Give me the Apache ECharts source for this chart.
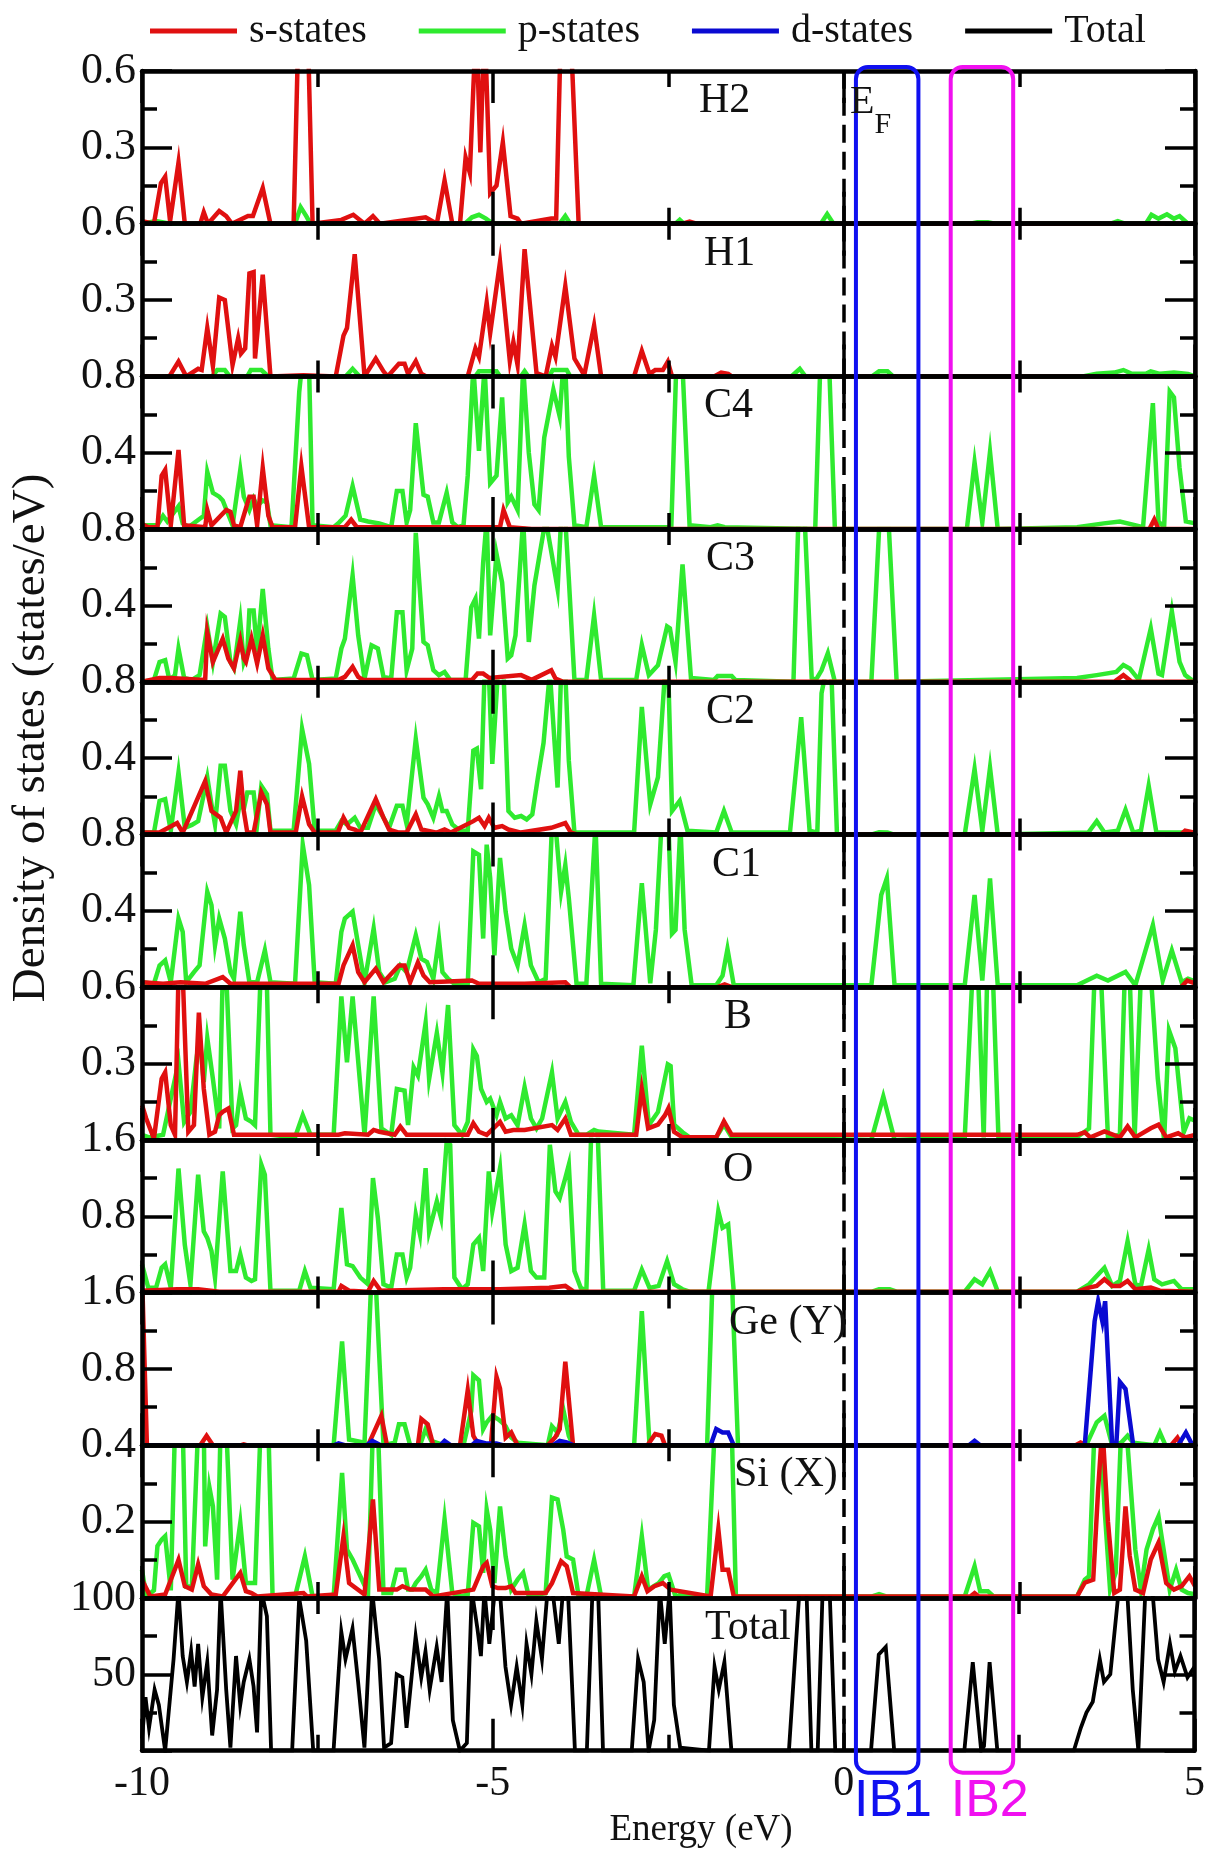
<!DOCTYPE html>
<html><head><meta charset="utf-8">
<script src="https://cdn.jsdelivr.net/npm/echarts@6/dist/echarts.min.js"></script>
<style>html,body{margin:0;padding:0;background:#fff}#c{width:1208px;height:1852px}</style>
</head><body><div id="c"></div><script>
// ---------- data (energy in eV, DOS values) ----------
const panelNames = ['H2','H1','C4','C3','C2','C1','B','O','Ge (Y)','Si (X)','Total'];
const panelMax   = [0.6, 0.6, 0.8, 0.8, 0.8, 0.8, 0.6, 1.6, 1.6, 0.4, 100];
const energyTicks = [-10, -5, 0, 5];
const ib1Range = [0.17, 1.06];
const ib2Range = [1.52, 2.41];

const sH2 = [[-10,0.01],[-9.83,0],[-9.73,0.16],[-9.67,0.185],[-9.6,0.01],[-9.48,0.24],[-9.39,0],[-9.17,0],[-9.12,0.045],[-9.06,0],[-8.9,0.05],[-8.8,0.03],[-8.72,0],[-8.49,0.03],[-8.42,0.03],[-8.28,0.14],[-8.17,0],[-7.84,0],[-7.76,0.9],[-7.65,0.9],[-7.57,0],[-7.16,0.015],[-6.99,0.035],[-6.83,0],[-6.71,0.03],[-6.61,0],[-5.96,0.025],[-5.8,0],[-5.69,0.17],[-5.58,0],[-5.47,0],[-5.39,0.26],[-5.33,0.2],[-5.24,0.8],[-5.18,0.28],[-5.12,0.8],[-5.04,0.12],[-4.95,0.15],[-4.86,0.32],[-4.75,0.03],[-4.65,0.02],[-4.6,0],[-4.17,0.02],[-4.1,0.02],[-4.03,0.8],[-3.96,0.9],[-3.87,0.6],[-3.78,0],[-2.9,0],[-2.88,0.007],[-2.82,0],[-2.3,0],[-2.2,0.008],[-2.1,0],[5,0]];
const pH2 = [[-10,0],[-9.8,0.01],[-9.6,0],[-7.82,0],[-7.74,0.065],[-7.66,0.03],[-7.6,0],[-5.4,0],[-5.3,0.025],[-5.2,0.035],[-5.1,0.02],[-5.0,0],[-4.05,0],[-3.97,0.03],[-3.9,0],[-2.4,0],[-2.34,0.015],[-2.28,0],[-0.33,0],[-0.24,0.038],[-0.15,0],[1.8,0],[1.9,0.006],[2.05,0.006],[2.15,0],[3.8,0],[3.9,0.01],[4.0,0],[4.3,0],[4.38,0.035],[4.48,0.02],[4.6,0.037],[4.7,0.02],[4.78,0.03],[4.9,0],[5,0]];

const sH1 = [[-10,0],[-9.61,0],[-9.48,0.058],[-9.37,0],[-9.2,0.03],[-9.15,0.025],[-9.07,0.19],[-8.99,0.04],[-8.9,0.31],[-8.82,0.3],[-8.71,0.045],[-8.63,0.15],[-8.59,0.09],[-8.53,0.11],[-8.47,0.405],[-8.41,0.41],[-8.39,0.07],[-8.28,0.4],[-8.17,0],[-7.7,0.005],[-7.24,0],[-7.13,0.16],[-7.08,0.19],[-6.97,0.48],[-6.83,0],[-6.67,0.07],[-6.56,0.02],[-6.5,0],[-6.34,0.05],[-6.26,0.05],[-6.21,0.01],[-6.1,0.06],[-6.02,0.01],[-5.95,0],[-5.36,0],[-5.25,0.11],[-5.2,0.077],[-5.09,0.29],[-5.04,0.17],[-4.9,0.45],[-4.76,0.06],[-4.71,0.135],[-4.65,0.045],[-4.55,0.5],[-4.38,0.013],[-4.25,0],[-4.16,0.12],[-4.11,0.077],[-3.97,0.355],[-3.84,0.07],[-3.7,0.005],[-3.56,0.2],[-3.46,0],[-2.99,0],[-2.88,0.1],[-2.77,0.01],[-2.69,0.025],[-2.58,0.025],[-2.51,0.058],[-2.45,0],[-1.85,0],[-1.75,0.015],[-1.65,0.01],[-1.6,0],[5,0]];
const pH1 = [[-10,0],[-9.0,0],[-8.93,0.025],[-8.82,0.025],[-8.75,0],[-8.5,0],[-8.45,0.025],[-8.3,0.025],[-8.2,0],[-7.1,0],[-7.0,0.03],[-6.9,0],[-5.25,0],[-5.2,0.02],[-4.95,0.02],[-4.9,0],[-4.6,0],[-4.55,0.02],[-4.5,0],[-4.2,0],[-4.15,0.025],[-3.95,0.025],[-3.9,0],[-0.75,0],[-0.63,0.03],[-0.55,0],[0.4,0],[0.5,0.02],[0.62,0.02],[0.7,0],[3.4,0],[3.6,0.01],[3.85,0.015],[3.98,0.025],[4.1,0.01],[4.3,0.01],[4.37,0.02],[4.5,0.01],[4.7,0.015],[4.9,0.01],[5,0]];

const sC4 = [[-10,0.026],[-9.91,0.01],[-9.78,0.01],[-9.72,0.28],[-9.67,0.31],[-9.59,0.02],[-9.48,0.415],[-9.4,0.02],[-9.1,0.01],[-9.07,0.1],[-9.01,0.02],[-8.8,0.1],[-8.74,0.09],[-8.69,0.02],[-8.6,0.01],[-8.47,0.17],[-8.41,0.17],[-8.36,0.02],[-8.28,0.32],[-8.2,0.07],[-8.14,0.01],[-7.82,0.01],[-7.73,0.33],[-7.62,0.01],[-7.11,0.01],[-7.02,0.05],[-6.94,0.01],[-4.9,0.01],[-4.85,0.1],[-4.76,0.01],[-4.45,0],[4.35,0],[4.42,0.05],[4.48,0],[5,0]];
const pC4 = [[-10,0.02],[-9.78,0.02],[-9.7,0.07],[-9.64,0.04],[-9.48,0.12],[-9.42,0.03],[-9.34,0.01],[-9.12,0.07],[-9.07,0.3],[-8.99,0.19],[-8.9,0.17],[-8.85,0.15],[-8.71,0.02],[-8.6,0.31],[-8.55,0.17],[-8.47,0.1],[-8.41,0.16],[-8.36,0.12],[-8.28,0.15],[-8.22,0.14],[-8.17,0.02],[-7.87,0.01],[-7.76,0.72],[-7.71,0.9],[-7.62,0.85],[-7.57,0.02],[-7.27,0.01],[-7.19,0.035],[-7.1,0.07],[-7.0,0.225],[-6.89,0.05],[-6.78,0.04],[-6.7,0.035],[-6.62,0.03],[-6.45,0.01],[-6.37,0.2],[-6.29,0.2],[-6.23,0.035],[-6.18,0.1],[-6.1,0.555],[-5.99,0.18],[-5.93,0.17],[-5.85,0.035],[-5.77,0.035],[-5.66,0.19],[-5.58,0.035],[-5.5,0.01],[-5.42,0.02],[-5.36,0.28],[-5.28,0.85],[-5.2,0.41],[-5.12,0.85],[-5.04,0.24],[-4.95,0.28],[-4.87,0.69],[-4.79,0.14],[-4.74,0.17],[-4.65,0.1],[-4.57,0.85],[-4.49,0.4],[-4.41,0.13],[-4.35,0.1],[-4.27,0.48],[-4.14,0.73],[-4.05,0.59],[-4.0,0.85],[-3.97,0.85],[-3.92,0.38],[-3.84,0.02],[-3.67,0.01],[-3.56,0.28],[-3.46,0.01],[-2.6,0.01],[-2.46,0.01],[-2.39,0.85],[-2.3,0.85],[-2.2,0.02],[-1.9,0.01],[-1.8,0.02],[-1.7,0.01],[-0.41,0],[-0.33,0.95],[-0.22,0.95],[-0.13,0],[1.75,0],[1.86,0.35],[1.97,0.035],[2.08,0.405],[2.19,0],[3.32,0.01],[3.7,0.03],[3.93,0.04],[4.1,0.025],[4.26,0.01],[4.4,0.66],[4.48,0.04],[4.56,0.01],[4.64,0.72],[4.7,0.69],[4.78,0.32],[4.87,0.04],[5,0.03]];

const sC3 = [[-10,0],[-9.75,0.02],[-9.6,0.02],[-9.1,0.01],[-9.07,0.26],[-8.99,0.104],[-8.85,0.226],[-8.77,0.122],[-8.69,0.07],[-8.6,0.217],[-8.55,0.122],[-8.52,0.104],[-8.44,0.226],[-8.36,0.096],[-8.28,0.243],[-8.2,0.07],[-8.1,0.01],[-7.2,0.01],[-7.11,0.026],[-7.0,0.078],[-6.92,0.026],[-6.85,0.01],[-5.3,0.01],[-5.22,0.043],[-5.14,0.043],[-5.05,0.02],[-4.6,0.035],[-4.45,0.01],[-4.17,0.061],[-4.11,0.017],[-4.0,0],[3.85,0],[3.98,0.035],[4.1,0],[5,0]];
const pC3 = [[-10,0],[-9.83,0.01],[-9.75,0.104],[-9.67,0.113],[-9.61,0.01],[-9.53,0.035],[-9.48,0.174],[-9.4,0.02],[-9.29,0.01],[-9.18,0.035],[-9.07,0.287],[-8.99,0.104],[-8.88,0.357],[-8.82,0.34],[-8.74,0.104],[-8.69,0.07],[-8.6,0.32],[-8.55,0.104],[-8.5,0.157],[-8.47,0.374],[-8.41,0.374],[-8.36,0.157],[-8.28,0.487],[-8.2,0.174],[-8.14,0.01],[-7.84,0.017],[-7.73,0.148],[-7.65,0.139],[-7.57,0.01],[-7.24,0.017],[-7.16,0.174],[-7.11,0.226],[-7.0,0.557],[-6.92,0.243],[-6.83,0.017],[-6.73,0.191],[-6.64,0.174],[-6.56,0.026],[-6.45,0.017],[-6.37,0.365],[-6.29,0.365],[-6.23,0.061],[-6.15,0.174],[-6.1,0.78],[-5.99,0.209],[-5.93,0.191],[-5.85,0.061],[-5.77,0.035],[-5.69,0.052],[-5.61,0.01],[-5.39,0.01],[-5.31,0.39],[-5.25,0.435],[-5.2,0.226],[-5.14,0.626],[-5.09,0.85],[-5.04,0.243],[-4.95,0.67],[-4.87,0.52],[-4.79,0.122],[-4.74,0.139],[-4.68,0.243],[-4.57,0.85],[-4.49,0.209],[-4.41,0.504],[-4.33,0.68],[-4.25,0.85],[-4.16,0.661],[-4.08,0.487],[-4.03,0.85],[-3.97,0.85],[-3.92,0.539],[-3.84,0.01],[-3.67,0.01],[-3.56,0.348],[-3.46,0.01],[-2.96,0.01],[-2.88,0.193],[-2.78,0.035],[-2.65,0.087],[-2.52,0.29],[-2.48,0.28],[-2.4,0.104],[-2.3,0.615],[-2.18,0.02],[-1.85,0.01],[-1.8,0.03],[-1.6,0.03],[-1.55,0.01],[-0.72,0],[-0.65,0.85],[-0.56,0.85],[-0.46,0.02],[-0.4,0.01],[-0.32,0.06],[-0.23,0.15],[-0.13,0],[0.39,0],[0.5,0.8],[0.64,0.8],[0.75,0],[3.32,0.02],[3.6,0.035],[3.88,0.052],[3.98,0.088],[4.07,0.07],[4.2,0.01],[4.37,0.28],[4.48,0.043],[4.53,0.035],[4.67,0.37],[4.78,0.104],[4.86,0.035],[4.95,0.01],[5,0.01]];

const sC2 = [[-10,0.01],[-9.75,0.01],[-9.5,0.06],[-9.42,0.01],[-9.1,0.28],[-9.01,0.123],[-8.88,0.088],[-8.8,0.01],[-8.66,0.123],[-8.6,0.334],[-8.55,0.123],[-8.5,0.01],[-8.41,0.01],[-8.3,0.22],[-8.22,0.158],[-8.17,0.01],[-7.81,0.01],[-7.72,0.2],[-7.62,0.053],[-7.54,0.01],[-7.21,0.01],[-7.13,0.088],[-7.05,0.035],[-6.97,0.026],[-6.89,0.01],[-6.67,0.185],[-6.56,0.088],[-6.48,0.026],[-6.34,0.01],[-6.23,0.01],[-6.1,0.105],[-6.02,0.026],[-5.8,0.01],[-5.69,0.026],[-5.6,0.01],[-5.28,0.07],[-5.2,0.088],[-5.12,0.044],[-5.06,0.088],[-4.98,0.035],[-4.87,0.044],[-4.78,0.026],[-4.6,0.01],[-4.17,0.035],[-3.97,0.06],[-3.89,0.01],[-3.8,0],[4.8,0],[4.86,0.02],[5,0.01]];
const pC2 = [[-10,0.01],[-9.83,0.01],[-9.75,0.176],[-9.67,0.185],[-9.59,0.02],[-9.48,0.325],[-9.39,0.035],[-9.29,0.05],[-9.2,0.07],[-9.07,0.3],[-9.01,0.158],[-8.96,0.053],[-8.88,0.36],[-8.82,0.36],[-8.74,0.123],[-8.66,0.053],[-8.6,0.176],[-8.55,0.132],[-8.5,0.22],[-8.41,0.22],[-8.36,0.053],[-8.3,0.255],[-8.22,0.211],[-8.17,0.02],[-7.84,0.02],[-7.72,0.554],[-7.62,0.37],[-7.54,0.02],[-7.24,0.02],[-7.16,0.07],[-7.08,0.053],[-6.97,0.088],[-6.89,0.035],[-6.78,0.035],[-6.67,0.158],[-6.56,0.088],[-6.48,0.035],[-6.37,0.15],[-6.29,0.15],[-6.23,0.053],[-6.1,0.5],[-5.99,0.193],[-5.93,0.158],[-5.85,0.088],[-5.77,0.2],[-5.72,0.123],[-5.66,0.123],[-5.58,0.053],[-5.47,0.02],[-5.36,0.02],[-5.28,0.44],[-5.23,0.45],[-5.17,0.237],[-5.12,0.85],[-5.06,0.85],[-5.01,0.37],[-4.93,0.85],[-4.85,0.85],[-4.78,0.123],[-4.69,0.088],[-4.6,0.097],[-4.52,0.079],[-4.44,0.105],[-4.36,0.3],[-4.28,0.48],[-4.19,0.85],[-4.08,0.246],[-4.03,0.85],[-3.97,0.85],[-3.92,0.387],[-3.84,0.01],[-3.56,0.01],[-2.99,0.01],[-2.88,0.668],[-2.76,0.158],[-2.65,0.3],[-2.55,0.85],[-2.5,0.8],[-2.45,0.123],[-2.34,0.176],[-2.23,0.02],[-1.82,0.01],[-1.71,0.123],[-1.6,0.01],[-0.77,0.01],[-0.61,0.615],[-0.49,0.02],[-0.38,0.01],[-0.32,0.74],[-0.26,0.85],[-0.18,0.85],[-0.1,0],[0.4,0],[0.5,0.012],[0.62,0.01],[0.7,0],[1.72,0],[1.86,0.343],[1.97,0.02],[2.08,0.35],[2.19,0],[3.48,0.01],[3.6,0.07],[3.71,0.01],[3.9,0.02],[4.01,0.13],[4.12,0.01],[4.23,0.02],[4.34,0.255],[4.45,0.01],[5,0.01]];

const sC1 = [[-10,0.026],[-9.7,0.018],[-9.45,0.026],[-9.1,0.018],[-8.85,0.053],[-8.74,0.018],[-7.2,0.018],[-7.13,0.114],[-7.0,0.22],[-6.92,0.079],[-6.83,0.026],[-6.67,0.097],[-6.56,0.026],[-6.34,0.114],[-6.26,0.114],[-6.18,0.026],[-6.07,0.13],[-5.99,0.061],[-5.9,0.026],[-5.3,0.035],[-5.2,0.018],[-4.55,0.018],[-3.97,0.026],[-3.9,0],[-1.8,0],[-1.7,0.015],[-1.6,0],[4.8,0],[4.89,0.035],[5,0.02]];
const pC1 = [[-10,0.026],[-9.83,0.018],[-9.75,0.114],[-9.67,0.14],[-9.59,0.026],[-9.48,0.36],[-9.42,0.29],[-9.37,0.026],[-9.26,0.079],[-9.18,0.114],[-9.07,0.5],[-9.01,0.43],[-8.96,0.22],[-8.9,0.36],[-8.82,0.255],[-8.74,0.079],[-8.69,0.044],[-8.6,0.396],[-8.55,0.22],[-8.47,0.026],[-8.36,0.026],[-8.25,0.193],[-8.17,0.026],[-7.82,0.018],[-7.71,0.747],[-7.62,0.536],[-7.54,0.026],[-7.24,0.018],[-7.16,0.29],[-7.11,0.36],[-7.0,0.396],[-6.92,0.22],[-6.83,0.026],[-6.7,0.308],[-6.62,0.079],[-6.53,0.026],[-6.4,0.044],[-6.32,0.114],[-6.23,0.079],[-6.1,0.272],[-6.02,0.149],[-5.94,0.132],[-5.85,0.044],[-5.77,0.255],[-5.72,0.079],[-5.64,0.044],[-5.55,0.018],[-5.36,0.018],[-5.28,0.712],[-5.2,0.694],[-5.14,0.255],[-5.09,0.747],[-5.04,0.571],[-4.98,0.167],[-4.9,0.677],[-4.82,0.396],[-4.74,0.202],[-4.65,0.114],[-4.55,0.325],[-4.46,0.114],[-4.35,0.026],[-4.25,0.044],[-4.16,0.85],[-4.11,0.85],[-4.03,0.501],[-3.97,0.64],[-3.92,0.466],[-3.81,0.018],[-3.67,0.018],[-3.54,0.85],[-3.46,0.018],[-3.0,0.01],[-2.88,0.545],[-2.76,0.02],[-2.68,0.3],[-2.6,0.85],[-2.5,0.85],[-2.45,0.28],[-2.4,0.3],[-2.33,0.85],[-2.27,0.3],[-2.17,0.01],[-1.82,0.01],[-1.73,0.06],[-1.66,0.2],[-1.57,0.01],[0.39,0.01],[0.53,0.483],[0.61,0.57],[0.72,0.01],[1.72,0.01],[1.86,0.483],[1.97,0.035],[2.08,0.57],[2.19,0.01],[3.32,0.01],[3.6,0.06],[3.76,0.035],[4.01,0.08],[4.15,0.01],[4.4,0.325],[4.54,0.035],[4.67,0.193],[4.81,0.026],[4.9,0.044],[5,0.03]];

const sB = [[-10,0.136],[-9.94,0.084],[-9.83,0.005],[-9.72,0.24],[-9.67,0.265],[-9.59,0.058],[-9.53,0.02],[-9.48,0.65],[-9.42,0.65],[-9.34,0.032],[-9.26,0.058],[-9.19,0.5],[-9.12,0.201],[-9.04,0.02],[-8.96,0.032],[-8.9,0.097],[-8.85,0.11],[-8.77,0.123],[-8.69,0.02],[-7.2,0.02],[-7.11,0.026],[-6.78,0.02],[-6.7,0.039],[-6.62,0.032],[-6.4,0.02],[-6.32,0.052],[-6.23,0.02],[-5.36,0.02],[-5.28,0.065],[-5.2,0.032],[-5.09,0.02],[-4.9,0.071],[-4.82,0.032],[-4.71,0.039],[-4.55,0.039],[-4.16,0.058],[-4.08,0.039],[-3.97,0.084],[-3.89,0.02],[-2.96,0.02],[-2.88,0.2],[-2.79,0.045],[-2.65,0.06],[-2.55,0.097],[-2.5,0.125],[-2.42,0.032],[-2.3,0.01],[-1.82,0.01],[-1.71,0.073],[-1.6,0.02],[3.32,0.02],[3.43,0.03],[3.51,0.01],[3.71,0.033],[3.93,0.01],[4.04,0.053],[4.15,0.01],[4.37,0.046],[4.48,0.06],[4.59,0.01],[4.76,0.026],[4.86,0.01],[5,0.02]];
const pB = [[-10,0.02],[-9.9,0.01],[-9.7,0.02],[-9.48,0.305],[-9.4,0.07],[-9.31,0.11],[-9.23,0.305],[-9.18,0.408],[-9.12,0.227],[-9.07,0.4],[-8.99,0.24],[-8.9,0.045],[-8.85,0.65],[-8.8,0.65],[-8.71,0.045],[-8.66,0.058],[-8.6,0.188],[-8.52,0.084],[-8.44,0.071],[-8.39,0.058],[-8.31,0.65],[-8.22,0.6],[-8.17,0.02],[-7.82,0.01],[-7.71,0.097],[-7.6,0.02],[-7.27,0.02],[-7.16,0.564],[-7.08,0.305],[-7.0,0.564],[-6.83,0.02],[-6.7,0.564],[-6.59,0.045],[-6.45,0.02],[-6.37,0.2],[-6.26,0.194],[-6.21,0.058],[-6.13,0.285],[-6.07,0.253],[-5.96,0.46],[-5.91,0.24],[-5.8,0.42],[-5.72,0.265],[-5.64,0.53],[-5.55,0.058],[-5.44,0.02],[-5.36,0.071],[-5.28,0.356],[-5.23,0.33],[-5.17,0.2],[-5.09,0.149],[-5.04,0.162],[-4.95,0.097],[-4.9,0.149],[-4.82,0.084],[-4.74,0.097],[-4.65,0.058],[-4.55,0.207],[-4.46,0.084],[-4.38,0.045],[-4.3,0.084],[-4.16,0.265],[-4.08,0.084],[-3.97,0.149],[-3.89,0.071],[-3.78,0.02],[-3.67,0.02],[-3.56,0.039],[-3.5,0.033],[-2.99,0.02],[-2.88,0.37],[-2.78,0.058],[-2.65,0.11],[-2.51,0.297],[-2.47,0.29],[-2.42,0.06],[-2.3,0.03],[-2.2,0.01],[-1.82,0.01],[-1.71,0.06],[-1.6,0.01],[0.39,0],[0.56,0.171],[0.72,0],[1.72,0.01],[1.83,0.65],[1.91,0.65],[1.99,0.01],[2.04,0.65],[2.12,0.65],[2.2,0.01],[3.32,0.01],[3.49,0.045],[3.57,0.65],[3.66,0.65],[3.76,0.01],[3.93,0.02],[4.0,0.65],[4.07,0.65],[4.14,0.01],[4.23,0.65],[4.37,0.65],[4.47,0.24],[4.56,0],[4.63,0.43],[4.72,0.36],[4.84,0.03],[4.92,0.085],[5,0.075]];

const sO = [[-10,0.02],[-9.5,0.035],[-9.2,0.035],[-8.9,0.01],[-7.2,0.01],[-7.16,0.07],[-7.05,0.02],[-6.78,0.01],[-6.7,0.122],[-6.6,0.02],[-5.7,0.035],[-5.28,0.035],[-4.9,0.035],[-4.2,0.05],[-3.97,0.07],[-3.85,0.01],[3.32,0.01],[3.49,0.052],[3.6,0.07],[3.71,0.14],[3.82,0.07],[3.93,0.07],[4.04,0.122],[4.15,0.035],[4.37,0.052],[4.5,0.02],[5,0.01]];
const pO = [[-10,0.296],[-9.91,0.05],[-9.8,0.05],[-9.72,0.26],[-9.67,0.296],[-9.59,0.05],[-9.48,1.3],[-9.39,0.5],[-9.31,0.087],[-9.2,1.235],[-9.12,0.643],[-9.07,0.574],[-9.01,0.435],[-8.96,0.157],[-8.85,1.27],[-8.74,0.226],[-8.66,0.226],[-8.6,0.4],[-8.52,0.157],[-8.44,0.122],[-8.39,0.139],[-8.3,1.34],[-8.25,1.235],[-8.17,0.02],[-7.76,0.02],[-7.68,0.226],[-7.6,0.05],[-7.27,0.035],[-7.16,0.887],[-7.08,0.296],[-7.0,0.278],[-6.89,0.157],[-6.78,0.087],[-6.71,1.2],[-6.64,0.783],[-6.56,0.087],[-6.45,0.05],[-6.37,0.4],[-6.29,0.4],[-6.23,0.157],[-6.18,0.261],[-6.1,0.817],[-6.04,0.609],[-5.96,1.304],[-5.91,0.643],[-5.8,0.956],[-5.74,0.783],[-5.66,1.58],[-5.61,1.548],[-5.55,0.157],[-5.44,0.035],[-5.36,0.087],[-5.28,0.504],[-5.2,0.574],[-5.14,0.226],[-5.06,1.27],[-5.01,0.852],[-4.9,1.304],[-4.82,0.504],[-4.74,0.226],[-4.65,0.261],[-4.55,0.713],[-4.46,0.226],[-4.38,0.157],[-4.27,0.157],[-4.19,1.548],[-4.11,1.06],[-4.05,0.991],[-3.97,1.2],[-3.92,1.34],[-3.84,0.226],[-3.75,0.05],[-3.67,0.02],[-3.6,1.7],[-3.51,1.7],[-3.43,0.02],[-2.99,0.02],[-2.88,0.24],[-2.77,0.05],[-2.64,0.07],[-2.52,0.33],[-2.42,0.087],[-2.3,0.035],[-2.2,0.01],[-1.93,0.01],[-1.79,0.852],[-1.73,0.678],[-1.65,0.713],[-1.57,0.01],[-0.8,0.01],[-0.6,0.01],[0.4,0.01],[0.5,0.035],[0.65,0.035],[0.75,0.01],[1.72,0.01],[1.86,0.139],[1.97,0.087],[2.08,0.226],[2.19,0.01],[3.32,0.01],[3.49,0.087],[3.71,0.26],[3.82,0.07],[3.93,0.122],[4.04,0.539],[4.15,0.087],[4.23,0.07],[4.34,0.452],[4.42,0.139],[4.53,0.087],[4.7,0.122],[4.81,0.035],[5,0.035]];

const sGe = [[-10,1.8],[-9.93,0],[-9.17,0],[-9.08,0.1],[-8.99,0],[-8.6,0],[-8.55,0.01],[-8.5,0],[-6.78,0],[-6.59,0.31],[-6.51,0],[-6.07,0],[-6.02,0.275],[-5.93,0.22],[-5.85,0],[-5.47,0],[-5.36,0.576],[-5.28,0.099],[-5.2,0],[-5.03,0],[-4.95,0.717],[-4.9,0.595],[-4.82,0.081],[-4.74,0.134],[-4.65,0],[-4.22,0],[-4.11,0.088],[-4.05,0.17],[-3.97,0.876],[-3.86,0],[-2.8,0],[-2.69,0.117],[-2.6,0.1],[-2.55,0],[3.3,0],[3.37,0.028],[3.45,0],[4.66,0],[4.75,0.08],[4.81,0],[5,0]];
const pGe = [[-10,0],[-7.27,0],[-7.15,1.088],[-7.05,0.06],[-6.83,0.028],[-6.73,1.8],[-6.67,1.7],[-6.56,0],[-6.4,0.028],[-6.34,0.22],[-6.26,0.22],[-6.18,0],[-6.04,0],[-5.96,0.17],[-5.88,0.046],[-5.69,0],[-5.42,0],[-5.31,0.36],[-5.28,0.734],[-5.2,0.68],[-5.14,0.17],[-5.09,0.24],[-5.01,0.31],[-4.93,0.275],[-4.87,0.24],[-4.82,0.2],[-4.74,0.081],[-4.65,0.028],[-4.22,0],[-4.16,0.2],[-4.08,0.134],[-4.0,0.38],[-3.92,0.099],[-3.86,0],[-2.99,0],[-2.88,1.405],[-2.77,0],[-1.95,0],[-1.87,1.8],[-1.6,1.8],[-1.51,0],[3.45,0],[3.6,0.24],[3.71,0.31],[3.82,0],[3.95,0.028],[4.04,0.1],[4.12,0.028],[4.42,0],[4.5,0.134],[4.58,0],[5,0]];
const dGe = [[-10,0],[-7.27,0],[-7.2,0.02],[-7.1,0],[-6.8,0],[-6.72,0.046],[-6.6,0],[-5.75,0],[-5.69,0.046],[-5.6,0],[-5.3,0],[-5.23,0.046],[-5.1,0.02],[-4.95,0.02],[-4.85,0],[-4.15,0],[-4.05,0.046],[-3.95,0.03],[-3.85,0],[-1.9,0],[-1.82,0.17],[-1.73,0.134],[-1.65,0.134],[-1.57,0],[1.78,0],[1.86,0.046],[1.94,0],[3.43,0],[3.57,1.3],[3.62,1.51],[3.68,1.3],[3.72,1.51],[3.82,0],[3.88,0.02],[3.93,0.664],[4.01,0.59],[4.12,0],[4.76,0],[4.87,0.134],[4.95,0.02],[5,0]];

const sSi = [[-10,0.048],[-9.88,0.004],[-9.67,0.009],[-9.48,0.1],[-9.39,0.031],[-9.29,0.022],[-9.2,0.088],[-9.12,0.031],[-9.01,0.009],[-8.85,0.004],[-8.6,0.066],[-8.52,0.018],[-8.44,0.013],[-8.36,0.004],[-7.7,0.013],[-7.65,0.004],[-7.24,0.009],[-7.13,0.162],[-7.05,0.039],[-6.83,0.009],[-6.71,0.258],[-6.62,0.022],[-6.37,0.022],[-6.29,0.031],[-6.18,0.022],[-5.96,0.022],[-5.85,0.004],[-5.28,0.022],[-5.14,0.083],[-5.09,0.092],[-5.01,0.031],[-4.93,0.026],[-4.82,0.026],[-4.74,0.031],[-4.68,0.013],[-4.25,0.013],[-4.16,0.039],[-4.03,0.096],[-3.95,0.083],[-3.86,0.013],[-2.99,0.004],[-2.88,0.057],[-2.8,0.018],[-2.7,0.031],[-2.58,0.039],[-2.47,0.022],[-1.9,0.004],[-1.79,0.18],[-1.73,0.074],[-1.65,0.074],[-1.57,0.004],[1.8,0.004],[1.86,0.013],[1.92,0.004],[3.32,0.004],[3.43,0.04],[3.55,0.048],[3.62,0.284],[3.68,0.45],[3.76,0.2],[3.85,0.013],[3.93,0.022],[4.01,0.24],[4.07,0.11],[4.15,0.022],[4.26,0.013],[4.37,0.101],[4.48,0.145],[4.59,0.039],[4.7,0.022],[4.81,0.031],[4.92,0.057],[5,0.031]];
const pSi = [[-10,0.074],[-9.94,0.004],[-9.83,0.02],[-9.78,0.136],[-9.72,0.153],[-9.67,0.162],[-9.59,0.02],[-9.53,0.45],[-9.42,0.45],[-9.37,0.03],[-9.29,0.03],[-9.2,0.45],[-9.12,0.45],[-9.1,0.135],[-9.04,0.29],[-8.99,0.24],[-8.93,0.048],[-8.88,0.45],[-8.8,0.45],[-8.71,0.048],[-8.6,0.197],[-8.52,0.039],[-8.44,0.039],[-8.39,0.039],[-8.31,0.45],[-8.2,0.45],[-8.14,0.004],[-7.82,0.004],[-7.68,0.109],[-7.57,0.004],[-7.27,0.004],[-7.15,0.328],[-7.08,0.127],[-7.0,0.101],[-6.89,0.057],[-6.78,0.013],[-6.71,0.45],[-6.64,0.45],[-6.56,0.013],[-6.45,0.013],[-6.37,0.074],[-6.26,0.074],[-6.21,0.022],[-6.15,0.022],[-6.1,0.039],[-6.02,0.057],[-5.96,0.074],[-5.88,0.022],[-5.8,0.013],[-5.69,0.206],[-5.58,0.013],[-5.47,0.004],[-5.36,0.009],[-5.28,0.197],[-5.2,0.188],[-5.14,0.066],[-5.09,0.232],[-5.04,0.179],[-4.98,0.039],[-4.9,0.24],[-4.82,0.109],[-4.74,0.022],[-4.65,0.048],[-4.57,0.066],[-4.49,0.004],[-4.25,0.013],[-4.16,0.263],[-4.08,0.258],[-4.0,0.179],[-3.95,0.109],[-3.86,0.101],[-3.78,0.004],[-3.67,0.004],[-3.56,0.1],[-3.46,0.004],[-2.99,0.004],[-2.88,0.162],[-2.79,0.022],[-2.64,0.039],[-2.56,0.057],[-2.5,0.061],[-2.4,0.004],[-2.3,0.01],[-1.95,0.004],[-1.84,0.45],[-1.6,0.45],[-1.54,0.004],[0.4,0.004],[0.5,0.01],[0.6,0.004],[1.72,0.004],[1.86,0.083],[1.94,0.018],[2.05,0.018],[2.13,0.004],[3.32,0.004],[3.43,0.048],[3.49,0.057],[3.57,0.45],[3.65,0.45],[3.71,0.24],[3.79,0.022],[3.87,0.066],[3.95,0.45],[4.04,0.4],[4.15,0.127],[4.23,0.022],[4.31,0.127],[4.4,0.18],[4.48,0.214],[4.56,0.118],[4.64,0.022],[4.73,0.074],[4.81,0.022],[4.9,0.013],[5,0.01]];

const total = [[-10,8],[-9.95,35],[-9.9,15],[-9.82,40],[-9.76,30],[-9.67,0],[-9.55,60],[-9.48,105],[-9.42,62],[-9.36,45],[-9.3,65],[-9.25,42],[-9.2,70],[-9.14,35],[-9.07,58],[-9.0,10],[-8.93,40],[-8.88,105],[-8.8,40],[-8.74,2],[-8.66,62],[-8.6,30],[-8.55,45],[-8.47,60],[-8.41,42],[-8.36,12],[-8.3,105],[-8.22,88],[-8.16,0],[-7.86,0],[-7.76,100],[-7.66,72],[-7.56,0],[-7.27,0],[-7.16,78],[-7.1,60],[-7.0,80],[-6.92,45],[-6.83,2],[-6.72,105],[-6.62,60],[-6.55,2],[-6.45,5],[-6.37,50],[-6.29,48],[-6.23,15],[-6.1,75],[-6.02,48],[-5.96,65],[-5.9,40],[-5.8,68],[-5.73,45],[-5.65,105],[-5.57,20],[-5.47,0],[-5.37,5],[-5.3,105],[-5.22,80],[-5.17,62],[-5.12,105],[-5.05,70],[-4.97,105],[-4.9,105],[-4.82,55],[-4.74,30],[-4.66,55],[-4.58,30],[-4.52,70],[-4.45,50],[-4.38,85],[-4.3,60],[-4.22,105],[-4.15,105],[-4.06,70],[-4.0,105],[-3.93,105],[-3.83,0],[-3.66,0],[-3.58,105],[-3.5,105],[-3.43,0],[-3.02,0],[-2.93,60],[-2.85,45],[-2.78,0],[-2.7,20],[-2.62,105],[-2.55,70],[-2.48,105],[-2.42,30],[-2.33,2],[-1.92,0],[-1.84,55],[-1.78,40],[-1.7,58],[-1.6,0],[-0.78,0],[-0.63,105],[-0.53,105],[-0.46,0],[-0.37,0],[-0.3,105],[-0.2,105],[-0.12,0],[0.39,0],[0.5,63],[0.6,68],[0.72,0],[1.72,0],[1.84,58],[1.96,0],[2.0,3],[2.08,58],[2.19,0],[3.28,0],[3.38,15],[3.46,25],[3.55,32],[3.65,60],[3.71,45],[3.8,50],[3.92,105],[4.04,105],[4.12,40],[4.2,0],[4.3,105],[4.4,105],[4.48,60],[4.56,45],[4.65,70],[4.72,52],[4.8,62],[4.9,48],[5,55]];

const sData = [sH2, sH1, sC4, sC3, sC2, sC1, sB, sO, sGe, sSi, null];
const pData = [pH2, pH1, pC4, pC3, pC2, pC1, pB, pO, pGe, pSi, null];
const dData = [null, null, null, null, null, null, null, null, dGe, null, null];
const tData = [null, null, null, null, null, null, null, null, null, null, total];

// ---------- layout / style ----------
const SERIF = '"Liberation Serif","Times New Roman",serif';
const C_S = '#e01010', C_P = '#2fea2f', C_D = '#0a0ad2', C_T = '#000000';
const LEFT = 142, RIGHT_EDGE = 1195, TOP = 71, PH = 152.7;
const LW = 4.5, FW = 4.5;

const grids = [], xAxes = [], yAxes = [], series = [];
panelNames.forEach((nm, i) => {
  grids.push({left: LEFT, width: RIGHT_EDGE - LEFT, top: TOP + i * PH, height: PH});
  const xBase = {
    type: 'value', gridIndex: i, z: 10, min: energyTicks[0], max: energyTicks[energyTicks.length - 1],
    interval: 5, splitLine: {show: false},
    axisLine: {show: true, onZero: false, lineStyle: {color: '#000', width: FW}},
    axisTick: {show: true, inside: true, length: 32, lineStyle: {color: '#000', width: 3.5}},
    minorTick: {show: true, splitNumber: 2, length: 16, lineStyle: {color: '#000', width: 3.5}},
    minorSplitLine: {show: false}
  };
  xAxes.push(Object.assign({}, xBase, {position: 'bottom',
    axisLabel: {show: i === panelNames.length - 1, fontFamily: SERIF, fontSize: 42, color: '#111', margin: 12}}));
  xAxes.push(Object.assign({}, xBase, {position: 'top', axisLabel: {show: false}}));
  const m = panelMax[i];
  const yBase = {
    type: 'value', gridIndex: i, z: 10, min: 0, max: m, interval: m / 2, splitLine: {show: false},
    axisLine: {show: true, onZero: false, lineStyle: {color: '#000', width: FW}},
    axisTick: {show: true, inside: true, length: 30, lineStyle: {color: '#000', width: 3.5}},
    minorTick: {show: true, splitNumber: 2, length: 15, lineStyle: {color: '#000', width: 3.5}}
  };
  yAxes.push(Object.assign({}, yBase, {position: 'left',
    axisLabel: {show: true, showMaxLabel: true, showMinLabel: false, fontFamily: SERIF, fontSize: 44, color: '#111', margin: 6,
      formatter: v => (v === 0 ? '' : String(+v.toFixed(2)))}}));
  yAxes.push(Object.assign({}, yBase, {position: 'right', axisLabel: {show: false}}));

  const mk = (name, data, color, z) => ({
    name, type: 'line', xAxisIndex: 2 * i, yAxisIndex: 2 * i, data, showSymbol: false, symbol: 'none',
    clip: true, z, lineStyle: {color, width: name === 'Total' ? 3.8 : LW, join: 'miter'}, itemStyle: {color}, animation: false
  });
  const list = [];
  if (pData[i]) list.push(mk('p-states', pData[i], C_P, 3));
  if (sData[i]) list.push(mk('s-states', sData[i], C_S, 4));
  if (dData[i]) list.push(mk('d-states', dData[i], C_D, 5));
  if (tData[i]) list.push(mk('Total', tData[i], C_T, 4));
  list[0].markLine = {
    silent: true, symbol: 'none', animation: false, label: {show: false},
    lineStyle: {color: '#000', type: [18, 9], width: 3.5},
    data: [{xAxis: 0}]
  };
  list.forEach(s => series.push(s));
});

const chart = echarts.init(document.getElementById('c'), null, {renderer: 'canvas'});
chart.setOption({
  backgroundColor: '#fff',
  animation: false,
  grid: grids, xAxis: xAxes, yAxis: yAxes, series,
  legend: {
    data: ['s-states', 'p-states', 'd-states', 'Total'],
    left: 145, top: 6, icon: 'rect', itemWidth: 87, itemHeight: 5, itemGap: 52,
    textStyle: {fontFamily: SERIF, fontSize: 40, color: '#111', padding: [0, 0, 0, 7]}
  }
});

// ---------- annotations (positions derived from the axes) ----------
const px = e => chart.convertToPixel({xAxisIndex: 0}, e);
const labelLeft = [699, 704, 704, 706, 706, 712, 724, 723, 729, 734, 705];
const graphics = [];
panelNames.forEach((nm, i) => {
  graphics.push({type: 'text', x: labelLeft[i], y: TOP + i * PH + 30, z: 50,
    style: {text: nm, font: '42px ' + SERIF, fill: '#111', textAlign: 'left', textVerticalAlign: 'middle'}});
});

const boxTop = TOP - 4, boxBottom = TOP + 11 * PH + 22;
const box = (r, color) => ({type: 'rect', z: 60,
  shape: {x: px(r[0]), y: boxTop, width: px(r[1]) - px(r[0]), height: boxBottom - boxTop, r: 12},
  style: {fill: 'none', stroke: color, lineWidth: 4}});
graphics.push(box(ib1Range, '#1010f0'));
graphics.push(box(ib2Range, '#f010f0'));
graphics.push({type: 'text', x: px(ib1Range[0]) - 2, y: 1802, z: 60,
  style: {text: 'IB1', font: '52px "Liberation Sans",Arial,sans-serif', fill: '#1010f0', textAlign: 'left', textVerticalAlign: 'middle'}});
graphics.push({type: 'text', x: px(ib2Range[0]), y: 1802, z: 60,
  style: {text: 'IB2', font: '52px "Liberation Sans",Arial,sans-serif', fill: '#f010f0', textAlign: 'left', textVerticalAlign: 'middle'}});
// E_F
graphics.push({type: 'text', x: px(0) + 6, y: 82, z: 60,
  style: {text: '{e|E}{f|F}', rich: {e: {font: '40px ' + SERIF, fill: '#111', verticalAlign: 'top'}, f: {font: '30px ' + SERIF, fill: '#111', padding: [28, 0, 0, 0], verticalAlign: 'top'}}, textAlign: 'left', textVerticalAlign: 'top'}});
// axis titles
graphics.push({type: 'text', x: 32, y: 738, rotation: Math.PI / 2, z: 60,
  style: {text: 'Density of states (states/eV)', font: '47px ' + SERIF, fill: '#111', textAlign: 'center', textVerticalAlign: 'middle'}});
graphics.push({type: 'text', x: 701, y: 1830, z: 60,
  style: {text: 'Energy (eV)', font: '37px ' + SERIF, fill: '#111', textAlign: 'center', textVerticalAlign: 'middle'}});
chart.setOption({graphic: graphics});
</script></body></html>
